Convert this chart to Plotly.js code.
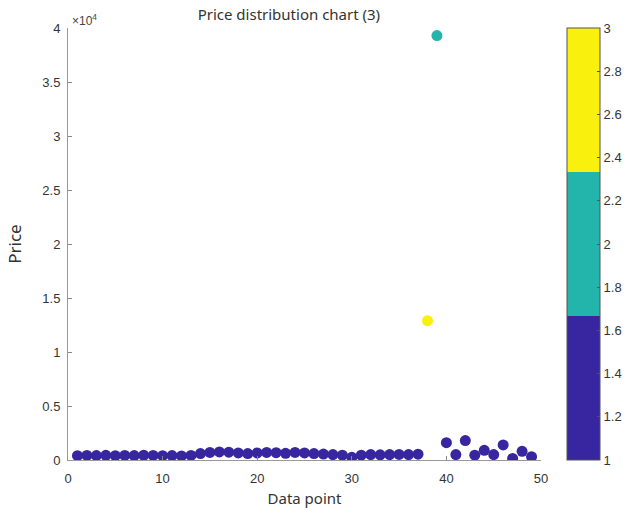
<!DOCTYPE html>
<html>
<head>
<meta charset="utf-8">
<script src="https://cdn.plot.ly/plotly-3.0.1.min.js"></script>
<style>html,body{margin:0;padding:0;background:#fff;}#chart{width:629px;height:520px;}</style>
</head>
<body>
<div id="chart"></div>
<script>
const dataPoints = [1,2,3,4,5,6,7,8,9,10,11,12,13,14,15,16,17,18,19,20,21,22,23,24,25,26,27,28,29,30,31,32,33,34,35,36,37,38,39,40,41,42,43,44,45,46,47,48,49];
const prices = [400,420,410,430,400,420,410,440,420,400,410,380,420,
                600,700,750,720,650,600,650,700,680,620,700,650,600,
                550,500,450,250,450,500,480,500,520,500,540,
                12900,39300,
                1600,500,1800,450,900,500,1400,150,800,300];
const categories = [1,1,1,1,1,1,1,1,1,1,1,1,1,1,1,1,1,1,1,1,1,1,1,1,1,1,1,1,1,1,1,1,1,1,1,1,1,
                    3,2,
                    1,1,1,1,1,1,1,1,1,1];
const yTickVals = [0,5000,10000,15000,20000,25000,30000,35000,40000];
const yTickText = ["0","0.5","1","1.5","2","2.5","3","3.5","4"];
const cbTickVals = [1,1.2,1.4,1.6,1.8,2,2.2,2.4,2.6,2.8,3];
const cbTickText = ["1","1.2","1.4","1.6","1.8","2","2.2","2.4","2.6","2.8","3"];

const cBlue = 'rgb(55,38,160)', cTeal = 'rgb(35,180,172)', cYellow = 'rgb(249,240,14)';
const colorscale = [[0,cBlue],[1/3,cBlue],[1/3,cTeal],[2/3,cTeal],[2/3,cYellow],[1,cYellow]];

const trace = {
  x: dataPoints, y: prices, type: 'scatter', mode: 'markers',
  marker: {
    size: 11, color: categories, colorscale: colorscale, cmin: 1, cmax: 3,
    line: {width: 0},
    showscale: true,
    colorbar: {
      x: 1.055, xanchor: 'left', xref: 'paper', y: 0, yanchor: 'bottom', len: 1, lenmode: 'fraction',
      thickness: 33, thicknessmode: 'pixels',
      outlinewidth: 1, outlinecolor: '#555',
      tickvals: cbTickVals, ticktext: cbTickText, ticks: 'inside', ticklen: 3, tickcolor: '#555',
      tickfont: {family: 'Liberation Sans, Arial, sans-serif', size: 13, color: '#333'},
      xpad: 0, ypad: 0
    }
  },
  hoverinfo: 'x+y'
};

const axisFont = {family: 'Liberation Sans, Arial, sans-serif', size: 13, color: '#333'};
const layout = {
  width: 629, height: 520,
  margin: {l: 68, r: 88, t: 28, b: 60, autoexpand: false},
  paper_bgcolor: '#fff', plot_bgcolor: '#fff',
  showlegend: false,
  title: {text: 'Price distribution chart (3)', x: 0.467, xref: 'paper', xanchor: 'center', y: 0.972, yref: 'container', yanchor: 'middle',
          font: {family: 'Noto Sans, sans-serif', size: 15, color: '#333'}},
  xaxis: {
    range: [0, 50], tickvals: [0,10,20,30,40,50], ticks: 'inside', ticklen: 4, tickcolor: '#888',
    showline: true, linecolor: '#999', linewidth: 1, showgrid: false, zeroline: false, mirror: false,
    tickfont: axisFont, ticklabelstandoff: 6,
    title: {text: 'Data point', font: {family: 'Noto Sans, sans-serif', size: 15, color: '#333'}, standoff: 8}
  },
  yaxis: {
    range: [0, 40000], tickvals: yTickVals, ticktext: yTickText, ticks: 'inside', ticklen: 4, tickcolor: '#888',
    showline: true, linecolor: '#999', linewidth: 1, showgrid: false, zeroline: false, mirror: false,
    tickfont: axisFont, ticklabelstandoff: 4,
    title: {text: 'Price', font: {family: 'Noto Sans, sans-serif', size: 17, color: '#333'}, standoff: 16}
  },
  annotations: [{
    text: '×10<sup>4</sup>', xref: 'paper', yref: 'paper', x: 0, y: 1, xanchor: 'left', yanchor: 'bottom',
    xshift: 2, yshift: -2, showarrow: false, font: {family: 'Liberation Sans, Arial, sans-serif', size: 12, color: '#444'}
  }]
};

Plotly.newPlot('chart', [trace], layout, {displayModeBar: false, staticPlot: true});
</script>
</body>
</html>
